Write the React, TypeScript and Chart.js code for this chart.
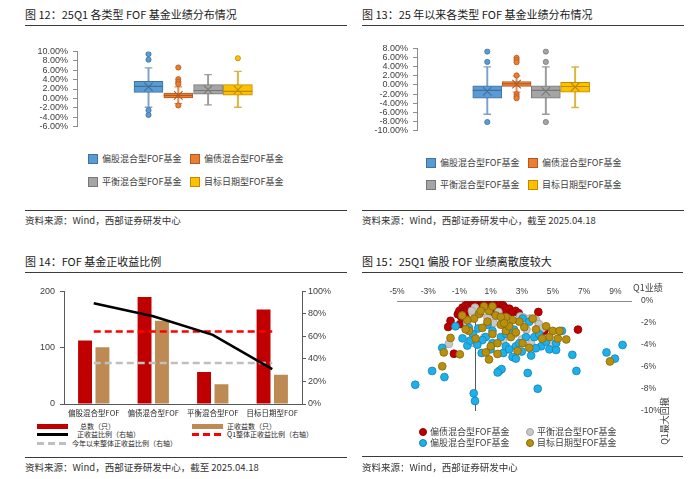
import { useEffect, useRef } from "react";
import Chart from "chart.js/auto";

const NUM_FONT = '"Liberation Sans", Arial, "Noto Sans CJK SC", sans-serif';
const CJK_FONT = '"Noto Sans CJK SC", "Liberation Sans", sans-serif';

// ---------- 图12 / 图13: box plots ----------
const boxNames = ["偏股混合型FOF基金", "偏债混合型FOF基金", "平衡混合型FOF基金", "目标日期型FOF基金"];
const boxFill = ["#5B9BD5", "#ED7D31", "#A5A5A5", "#FFC000"];
const boxEdge = ["#41719C", "#AE5A21", "#787878", "#BC8C00"];
const whiskerColor = ["#7FA2C8", "#DE8A58", "#9C9C9C", "#DDB441"];

// 25Q1 returns (%)
const q1Low = [-1.9, -1.12, -1.41, -1.9];
const q1Quart1 = [1.27, 0.07, 0.9, 0.66];
const q1Median = [2.57, 0.6, 1.68, 1.5];
const q1Mean = [2.45, 0.62, 1.86, 1.8];
const q1Quart3 = [3.64, 1.14, 2.93, 2.93];
const q1High = [6.5, 2.44, 5.07, 5.78];
const q1Outliers = [[9.47, 8.28, -2.55, -3.55], [6.6, 4.1, 3.5, 3.05, -1.53], [], [8.58]];
const q1AxisRange = [-6, 10];

// 2025 YTD returns (%)
const ytdLow = [-6.45, -1.58, -6.45, -4.96];
const ytdQuart1 = [-2.93, -0.3, -2.93, -1.58];
const ytdMedian = [-1.2, 0.26, -1.2, -0.35];
const ytdMean = [-1.4, 0.2, -1.4, -0.45];
const ytdQuart3 = [-0.17, 0.76, -0.17, 0.57];
const ytdHigh = [4.0, 2.0, 4.0, 3.95];
const ytdOutliers = [[7.35, 5.07, -8.16], [5.98, 5.5, 5.0, 2.1, -2.0, -2.5, -2.93], [7.35, 5.07, -8.16], []];
const ytdAxisRange = [-10, 8];

// ---------- 图14: positive return ratio ----------
const fofCategories = ["偏股混合型FOF", "偏债混合型FOF", "平衡混合型FOF", "目标日期型FOF"];
const totalCount = [113, 190, 57, 168];
const positiveCount = [101, 148, 35, 52];
const positiveRatio = [89.4, 77.9, 61.4, 31.0];
const q1OverallRatio = [64.3, 64.3, 64.3, 64.3];
const ytdOverallRatio = [36.5, 36.5, 36.5, 36.5];

// ---------- 图15: Q1 return vs max drawdown (%) ----------
const bondPoints = [
  [-1.1, -1.2], [-1.0, -0.9], [-0.9, -1.4], [-0.8, -0.6], [-0.7, -1.0], [-0.6, -0.4], [-0.5, -0.8],
  [-0.4, -0.2], [-0.3, -0.6], [-0.2, -0.1], [-0.1, -0.4], [0.0, 0.0], [0.1, -0.3], [0.2, -0.05],
  [0.3, -0.5], [0.4, -0.2], [0.5, -0.1], [0.6, -0.4], [0.7, -0.05], [0.8, -0.3], [0.9, -0.6],
  [1.0, -0.1], [1.1, -0.4], [1.2, -0.2], [1.3, -0.7], [1.4, -0.3], [1.5, -0.5], [1.6, -0.2],
  [1.7, -0.8], [1.8, -0.4], [1.9, -0.6], [2.0, -0.9], [2.2, -0.7], [2.4, -1.0], [2.6, -0.9],
  [2.8, -1.1], [-1.57, -1.8], [-1.72, -2.36], [-1.35, -4.8], [-0.95, -2.1], [4.06, -1.0],
  [6.6, -2.6], [4.45, -2.7], [-0.6, -1.5], [0.3, -1.1], [1.0, -1.0],
];
const balancedPoints = [
  [0.0, -0.6], [-0.2, -0.9], [1.5, -1.0], [2.9, -1.4], [3.1, -1.5], [3.5, -1.6], [3.9, -1.7],
  [4.1, -2.1], [4.3, -2.5], [-1.68, -3.9], [-0.1, -3.8], [4.9, -3.9], [0.6, -3.3], [2.0, -2.5],
  [2.5, -3.0], [3.0, -3.5], [3.6, -3.9], [4.4, -3.7], [1.2, -2.0], [-0.5, -2.0], [0.8, -1.5],
  [2.2, -1.9], [3.3, -2.6], [1.8, -3.6],
];
const equityPoints = [
  [-3.83, -7.62], [-2.75, -6.36], [-1.96, -6.92], [-2.1, -4.26], [-1.25, -2.3], [-0.49, -4.06],
  [-0.08, -8.4], [0.0, -9.1], [0.43, -4.73], [0.8, -2.16], [1.12, -2.72], [1.55, -6.36],
  [1.7, -6.2], [1.45, -6.5], [1.81, -4.73], [2.41, -5.1], [2.62, -5.24], [3.38, -6.55],
  [3.6, -4.96], [4.02, -7.98], [4.77, -4.4], [5.2, -4.45], [5.57, -2.72], [6.24, -4.9],
  [6.5, -6.36], [8.43, -4.68], [8.97, -5.24], [9.46, -4.0], [-0.39, -2.44], [-0.13, -3.0],
  [0.69, -3.28], [1.12, -3.84], [1.98, -4.12], [2.62, -4.12], [3.05, -1.6], [3.48, -1.88],
  [3.8, -3.28], [4.24, -4.12], [4.56, -3.7], [2.84, -3.84], [1.66, -3.28], [0.47, -3.56],
  [0.15, -3.98], [3.27, -3.28], [2.19, -4.4], [5.2, -3.84], [-0.8, -3.4], [0.2, -2.5],
  [1.0, -4.4], [2.0, -3.0], [3.0, -4.6], [3.9, -4.3], [4.1, -3.0], [2.5, -2.6], [-0.3, -3.6],
];
const targetDatePoints = [
  [-1.57, -3.36], [-2.0, -4.68], [-2.1, -5.94], [-0.97, -4.85], [0.9, -5.32], [1.44, -4.82],
  [0.69, -4.68], [8.65, -5.5], [5.85, -3.5], [5.31, -3.42], [4.77, -3.28], [4.56, -2.3],
  [4.99, -2.72], [5.42, -2.72], [4.3, -3.42], [3.7, -1.6], [3.16, -2.38], [2.84, -1.88],
  [2.41, -1.74], [1.98, -1.46], [1.66, -2.16], [1.33, -1.32], [0.9, -0.9], [0.58, -0.48],
  [0.26, -1.18], [-0.06, -1.6], [-0.49, -1.74], [-0.39, -2.72], [0.04, -3.42], [0.47, -2.44],
  [1.12, -3.0], [1.44, -3.84], [1.98, -2.72], [2.3, -3.28], [2.62, -2.86], [3.05, -3.84],
  [3.48, -4.26], [2.73, -4.54], [2.19, -2.3], [1.66, -1.46], [0.8, -1.88], [-0.82, -1.32],
  [-0.6, -2.58], [1.01, -4.12], [3.91, -2.58], [1.12, -0.48], [0.37, -0.9], [1.87, -2.02],
];
const scatterXTicks = [-5, -3, -1, 1, 3, 5, 7, 9];
const scatterXRange = [-5, 10];
const scatterYRange = [-10, 0];

function ChartCanvas({ make, left, top, width, height }: any) {
  const ref = useRef<HTMLCanvasElement>(null);
  useEffect(() => {
    const chart = new Chart(ref.current as HTMLCanvasElement, make());
    return () => chart.destroy();
  }, []);
  return (
    <div style={{ position: "absolute", left, top, width, height }}>
      <canvas ref={ref} />
    </div>
  );
}

const basePlugins = { legend: { display: false }, tooltip: { enabled: false }, colors: { enabled: false } };

function boxConfig(low: number[], q1: number[], median: number[], mean: number[], q3: number[], high: number[], outliers: number[][], range: number[]) {
  const pos = (i: number) => i + 1;
  const outPts = outliers.flatMap((arr, i) => arr.map((v) => ({ x: pos(i), y: v })));
  const outIdx = outliers.flatMap((arr, i) => arr.map(() => i));
  return {
    type: "bar",
    data: {
      datasets: [
        {
          type: "scatter",
          data: outPts,
          pointRadius: 2.6,
          pointBackgroundColor: outIdx.map((i) => boxFill[i]),
          pointBorderColor: outIdx.map((i) => boxEdge[i]),
          pointBorderWidth: 0.8,
        },
        {
          type: "scatter",
          data: mean.map((v, i) => ({ x: pos(i), y: v })),
          pointStyle: "crossRot",
          pointRadius: 6,
          pointBorderColor: boxEdge,
          pointBorderWidth: 1.1,
        },
        {
          type: "scatter",
          data: median.map((v, i) => ({ x: pos(i), y: v })),
          pointStyle: "line",
          pointRadius: 14.5,
          pointBorderColor: boxEdge,
          pointBorderWidth: 1.1,
        },
        {
          type: "bar",
          data: q1.map((v, i) => ({ x: pos(i), y: [v, q3[i]] })),
          backgroundColor: boxFill,
          borderColor: boxEdge,
          borderWidth: 1,
          borderSkipped: false,
          barThickness: 29,
          grouped: false,
        },
        {
          type: "scatter",
          data: [...low.map((v, i) => ({ x: pos(i), y: v })), ...high.map((v, i) => ({ x: pos(i), y: v }))],
          pointStyle: "line",
          pointRadius: 3.8,
          pointBorderColor: [...whiskerColor, ...whiskerColor],
          pointBorderWidth: 1.3,
        },
        {
          type: "bar",
          data: low.map((v, i) => ({ x: pos(i), y: [v, high[i]] })),
          backgroundColor: whiskerColor,
          barThickness: 1.3,
          grouped: false,
        },
      ],
    },
    options: {
      animation: false,
      responsive: true,
      maintainAspectRatio: false,
      events: [],
      layout: { padding: { top: 8, bottom: 8, left: 0, right: 0 } },
      plugins: basePlugins,
      scales: {
        x: { type: "linear", min: -1.4, max: 6.4, display: false, offset: false },
        y: {
          min: range[0],
          max: range[1],
          ticks: {
            stepSize: 2,
            autoSkip: false,
            color: "#404040",
            padding: 5,
            font: { family: NUM_FONT, size: 9 },
            callback: (v: any) => Number(v).toFixed(2) + "%",
          },
          grid: { drawOnChartArea: false, tickLength: 4, color: "#8c8c8c" },
          border: { color: "#8c8c8c" },
          afterFit: (s: any) => {
            s.width = 52;
          },
        },
      },
    },
  };
}

function ratioConfig() {
  const axisColor = "#595959";
  return {
    type: "bar",
    data: {
      labels: fofCategories,
      datasets: [
        { type: "line", label: "正收益比例（右轴）", data: positiveRatio, yAxisID: "y1", borderColor: "#000000", borderWidth: 2.6, pointRadius: 0, order: 1 },
        { type: "line", label: "今年以来整体正收益比例（右轴）", data: ytdOverallRatio, yAxisID: "y1", borderColor: "#BFBFBF", borderWidth: 2.5, borderDash: [7, 4], pointRadius: 0, order: 2 },
        { type: "line", label: "Q1整体正收益比例（右轴）", data: q1OverallRatio, yAxisID: "y1", borderColor: "#FF0000", borderWidth: 2.5, borderDash: [7, 4], pointRadius: 0, order: 3 },
        { type: "bar", label: "总数（只）", data: totalCount, yAxisID: "y", backgroundColor: "#C00000", categoryPercentage: 0.585, barPercentage: 0.8, order: 4 },
        { type: "bar", label: "正收益数（只）", data: positiveCount, yAxisID: "y", backgroundColor: "#BE8A53", categoryPercentage: 0.585, barPercentage: 0.8, order: 5 },
      ],
    },
    options: {
      animation: false,
      responsive: true,
      maintainAspectRatio: false,
      events: [],
      layout: { padding: { top: 8, bottom: 0, left: 0, right: 0 } },
      plugins: basePlugins,
      scales: {
        x: {
          grid: { display: false, drawTicks: false },
          border: { color: axisColor },
          ticks: { color: "#262626", padding: 5, maxRotation: 0, autoSkip: false, font: { family: CJK_FONT, size: 7.5 } },
          afterFit: (s: any) => {
            s.height = 16;
          },
        },
        y: {
          position: "left",
          min: 0,
          max: 200,
          ticks: { stepSize: 100, color: "#404040", padding: 5, font: { family: NUM_FONT, size: 9 } },
          grid: { drawOnChartArea: false, tickLength: 4, color: axisColor },
          border: { color: axisColor },
          afterFit: (s: any) => {
            s.width = 39;
          },
        },
        y1: {
          position: "right",
          min: 0,
          max: 100,
          ticks: { stepSize: 20, autoSkip: false, color: "#404040", padding: 2, font: { family: NUM_FONT, size: 9 }, callback: (v: any) => v + "%" },
          grid: { drawOnChartArea: false, tickLength: 4, color: axisColor },
          border: { color: axisColor },
          afterFit: (s: any) => {
            s.width = 40;
          },
        },
      },
    },
  };
}

const scatterSeries = [
  { label: "偏债混合型FOF基金", points: bondPoints, fill: "#C00000", edge: "#8A0000", order: 4 },
  { label: "平衡混合型FOF基金", points: balancedPoints, fill: "#C8C8C8", edge: "#A2A2A2", order: 3 },
  { label: "偏股混合型FOF基金", points: equityPoints, fill: "#1EB0EA", edge: "#1384B4", order: 2 },
  { label: "目标日期型FOF基金", points: targetDatePoints, fill: "#B8900E", edge: "#85680A", order: 1 },
];

function scatterConfig() {
  return {
    type: "scatter",
    data: {
      datasets: scatterSeries.map((s) => ({
        label: s.label,
        data: s.points.map(([x, y]) => ({ x, y })),
        backgroundColor: s.fill,
        borderColor: s.edge,
        pointRadius: 3.9,
        pointBorderWidth: 0.8,
        order: s.order,
      })),
    },
    options: {
      animation: false,
      responsive: true,
      maintainAspectRatio: false,
      events: [],
      layout: { padding: { top: 0, bottom: 6, left: 35, right: 0 } },
      plugins: basePlugins,
      scales: {
        x: {
          type: "linear",
          position: "top",
          min: scatterXRange[0],
          max: scatterXRange[1],
          afterBuildTicks: (s: any) => {
            s.ticks = scatterXTicks.map((v) => ({ value: v }));
          },
          ticks: { autoSkip: false, color: "#404040", padding: 4, font: { family: NUM_FONT, size: 8.5 }, callback: (v: any) => v + "%" },
          grid: { display: false, drawTicks: false },
          border: { color: "#8c8c8c" },
          afterFit: (s: any) => {
            s.height = 23;
          },
        },
        y: {
          position: "right",
          min: scatterYRange[0],
          max: scatterYRange[1],
          ticks: { stepSize: 2, autoSkip: false, color: "#404040", padding: 10, font: { family: NUM_FONT, size: 8.5 }, callback: (v: any) => v + "%" },
          grid: { display: false, drawTicks: false },
          border: { display: false },
          afterFit: (s: any) => {
            s.width = 32;
          },
        },
        yLine: {
          axis: "y",
          position: { x: 0 },
          min: scatterYRange[0],
          max: scatterYRange[1],
          ticks: { display: false },
          grid: { display: false, drawTicks: false },
          border: { color: "#595959" },
        },
      },
    },
  };
}

function Txt({ x, y, size, children, color = "#262626", family = CJK_FONT }: any) {
  return (
    <div
      style={{
        position: "absolute",
        left: x,
        top: y - size * 0.6,
        fontSize: size,
        lineHeight: `${size * 1.2}px`,
        whiteSpace: "nowrap",
        color,
        fontFamily: family,
      }}
    >
      {children}
    </div>
  );
}

function Rule({ x, y, w }: any) {
  return <div style={{ position: "absolute", left: x, top: y, width: w, height: 1, background: "#3a3a3a" }} />;
}

function Square({ x, y, i }: any) {
  return (
    <div
      style={{
        position: "absolute",
        left: x,
        top: y - 5,
        width: 10,
        height: 10,
        boxSizing: "border-box",
        background: boxFill[i],
        border: `1px solid ${boxEdge[i]}`,
      }}
    />
  );
}

function BoxLegend({ x0, x1, y0, y1 }: any) {
  const spots = [
    [x0, y0],
    [x1, y0],
    [x0, y1],
    [x1, y1],
  ];
  return (
    <>
      {boxNames.map((name, i) => (
        <div key={name}>
          <Square x={spots[i][0]} y={spots[i][1]} i={i} />
          <Txt x={spots[i][0] + 14} y={spots[i][1]} size={9} color="#404040">
            {name}
          </Txt>
        </div>
      ))}
    </>
  );
}

function Swatch({ x, y, w, h, color, dashed }: any) {
  const bg = dashed ? `repeating-linear-gradient(to right, ${color} 0 7px, transparent 7px 11px)` : color;
  return <div style={{ position: "absolute", left: x, top: y - h / 2, width: w, height: h, background: bg }} />;
}

function Dot({ x, y, fill, edge }: any) {
  return (
    <div
      style={{
        position: "absolute",
        left: x - 4,
        top: y - 4,
        width: 8,
        height: 8,
        borderRadius: "50%",
        boxSizing: "border-box",
        background: fill,
        border: `1px solid ${edge}`,
      }}
    />
  );
}

export default function App() {
  const scatterSpots = [
    [423, 432],
    [530, 432],
    [423, 443],
    [530, 443],
  ];
  return (
    <div style={{ position: "absolute", left: 0, top: 0, width: 700, height: 479, background: "#ffffff", overflow: "hidden" }}>
      {/* 图12 */}
      <Txt x={25} y={15} size={11} color="#1a1a1a">图 12：25Q1 各类型 FOF 基金业绩分布情况</Txt>
      <Rule x={25} y={25} w={322} />
      <ChartCanvas
        left={25}
        top={36}
        width={300}
        height={106}
        make={() => boxConfig(q1Low, q1Quart1, q1Median, q1Mean, q1Quart3, q1High, q1Outliers, q1AxisRange)}
      />
      <BoxLegend x0={88} x1={190} y0={159} y1={182} />
      <Rule x={25} y={210} w={322} />
      <Txt x={25} y={221} size={9.5} color="#333">资料来源：Wind，西部证券研发中心</Txt>

      {/* 图13 */}
      <Txt x={362} y={15} size={11} color="#1a1a1a">图 13：25 年以来各类型 FOF 基金业绩分布情况</Txt>
      <Rule x={362} y={25} w={322} />
      <ChartCanvas
        left={365}
        top={33}
        width={296}
        height={113}
        make={() => boxConfig(ytdLow, ytdQuart1, ytdMedian, ytdMean, ytdQuart3, ytdHigh, ytdOutliers, ytdAxisRange)}
      />
      <BoxLegend x0={426} x1={528} y0={163} y1={185} />
      <Rule x={362} y={210} w={322} />
      <Txt x={362} y={221} size={9.5} color="#333">资料来源：Wind，西部证券研发中心，截至 2025.04.18</Txt>

      {/* 图14 */}
      <Txt x={25} y={262} size={11} color="#1a1a1a">图 14：FOF 基金正收益比例</Txt>
      <Rule x={25} y={272} w={322} />
      <ChartCanvas left={25} top={281} width={317} height={139} make={ratioConfig} />
      <Swatch x={37} y={426} w={31} h={5} color="#C00000" />
      <Txt x={80} y={426} size={7}>总数（只）</Txt>
      <Swatch x={192} y={426} w={31} h={5} color="#BE8A53" />
      <Txt x={227} y={426} size={7}>正收益数（只）</Txt>
      <Swatch x={37} y={434.5} w={31} h={3} color="#000000" />
      <Txt x={77} y={434.5} size={7}>正收益比例（右轴）</Txt>
      <Swatch x={192} y={434.5} w={31} h={3} color="#FF0000" dashed />
      <Txt x={227} y={434.5} size={7}>Q1整体正收益比例（右轴）</Txt>
      <Swatch x={37} y={443} w={31} h={3} color="#BFBFBF" dashed />
      <Txt x={72} y={443} size={7}>今年以来整体正收益比例（右轴）</Txt>
      <Rule x={25} y={457} w={322} />
      <Txt x={25} y={468} size={9.5} color="#333">资料来源：Wind，西部证券研发中心，截至 2025.04.18</Txt>

      {/* 图15 */}
      <Txt x={362} y={262} size={11} color="#1a1a1a">图 15：25Q1 偏股 FOF 业绩离散度较大</Txt>
      <Rule x={362} y={272} w={321} />
      <ChartCanvas left={362} top={278} width={301} height={148} make={scatterConfig} />
      <Txt x={633} y={288} size={9} color="#404040">Q1业绩</Txt>
      <div
        style={{
          position: "absolute",
          left: 665 - 30,
          top: 421 - 6,
          width: 60,
          height: 12,
          transform: "rotate(-90deg)",
          fontSize: 9,
          lineHeight: "12px",
          textAlign: "center",
          whiteSpace: "nowrap",
          color: "#404040",
          fontFamily: CJK_FONT,
        }}
      >
        Q1最大回撤
      </div>
      {[0, 1, 2, 3].map((k) => {
        const s = scatterSeries[k];
        return (
          <div key={s.label}>
            <Dot x={scatterSpots[k][0]} y={scatterSpots[k][1]} fill={s.fill} edge={s.edge} />
            <Txt x={scatterSpots[k][0] + 7} y={scatterSpots[k][1]} size={9} color="#404040">
              {s.label}
            </Txt>
          </div>
        );
      })}
      <Rule x={362} y={456} w={321} />
      <Txt x={362} y={468} size={9.5} color="#333">资料来源：Wind，西部证券研发中心</Txt>
    </div>
  );
}
